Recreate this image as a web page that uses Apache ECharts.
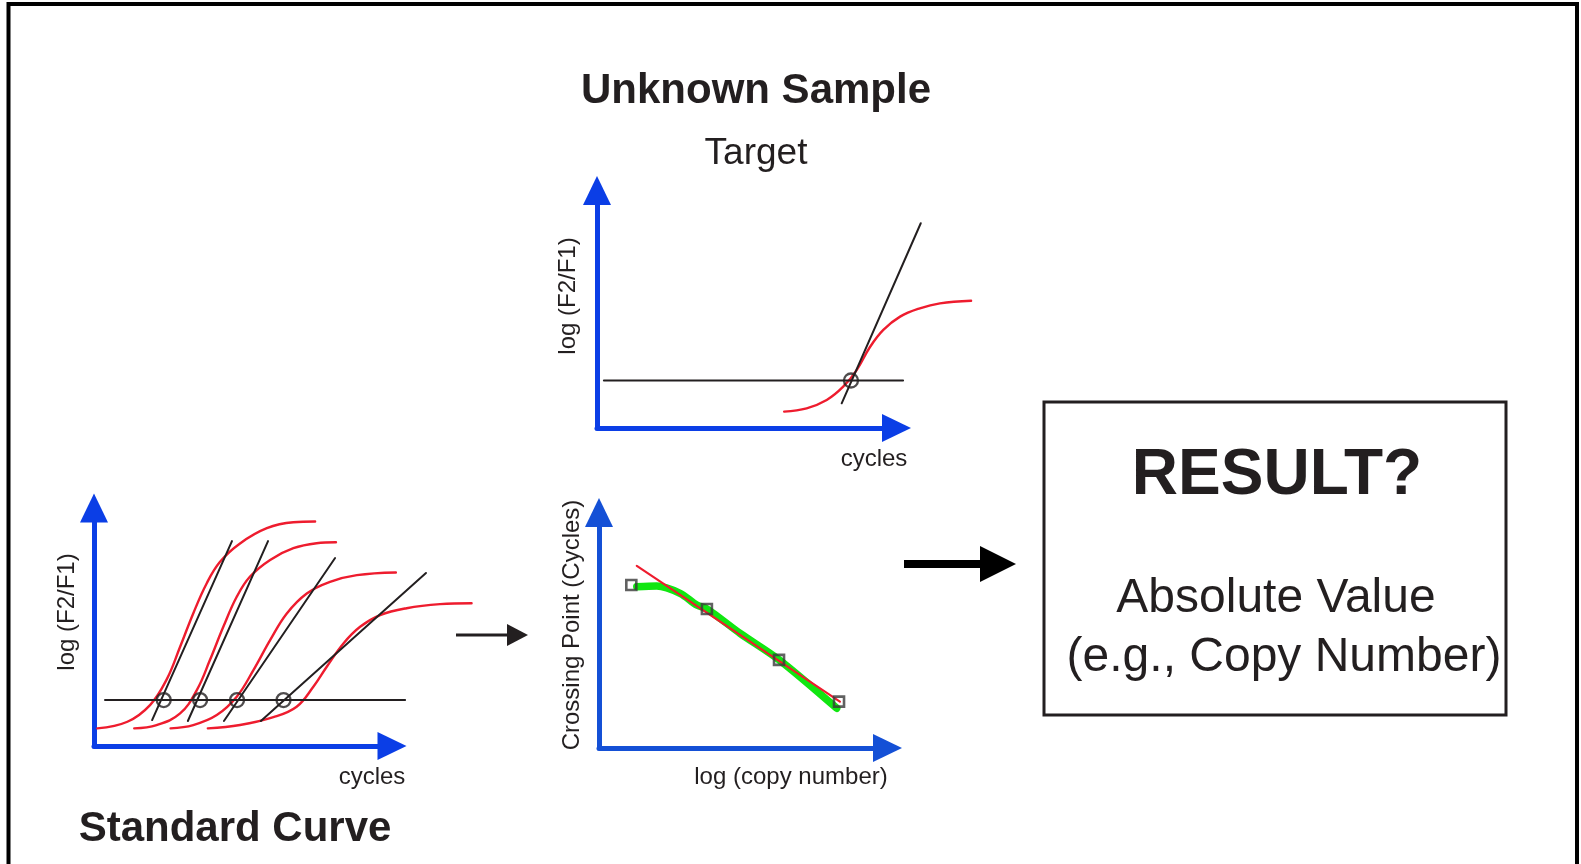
<!DOCTYPE html>
<html>
<head>
<meta charset="utf-8">
<title>Standard Curve / Unknown Sample</title>
<script src="https://cdn.jsdelivr.net/npm/echarts@6.0.0/dist/echarts.min.js"></script>
<style>
  html, body { margin: 0; padding: 0; background: #fff; }
  #main { width: 1581px; height: 864px; }
</style>
</head>
<body>
<div id="main"></div>
<script>
// --- Standard curve panel: four dilutions (x = cycles, y = log(F2/F1), 0..100 units)
const stdCurve1 = [[1.1, 7.4], [11.2, 10.2], [18.8, 17.2], [24.4, 28.0], [28.9, 41.7], [33.3, 55.7], [37.8, 68.3], [42.3, 77.4], [49.0, 85.1], [58.0, 91.5], [66.9, 94.0], [74.2, 94.3]];
const stdCurve2 = [[13.5, 7.4], [21.0, 8.8], [28.9, 13.7], [34.5, 23.5], [38.9, 36.1], [43.4, 50.1], [47.9, 62.7], [52.3, 71.1], [59.1, 78.2], [66.9, 83.1], [74.7, 85.2], [81.2, 85.6]];
const stdCurve3 = [[25.7, 7.4], [33.3, 8.8], [41.2, 13.0], [47.9, 20.7], [53.5, 31.9], [59.1, 44.5], [64.7, 55.7], [71.4, 64.1], [79.2, 69.0], [88.2, 71.8], [101.3, 72.9]];
const stdCurve4 = [[38.2, 7.4], [49.0, 8.8], [60.2, 12.1], [68.0, 16.5], [73.6, 24.9], [78.1, 33.3], [83.7, 43.1], [89.3, 50.1], [96.0, 55.0], [104.9, 57.9], [116.1, 59.6], [126.7, 60.0]];
const stdThreshold = [[3.7, 19.3], [104.4, 19.3]];
const stdTangents = [
  [[19.5, 10.9], [46.3, 86.1]],
  [[31.5, 10.5], [58.4, 86.1]],
  [[43.6, 10.5], [80.9, 79.0]],
  [[56.0, 10.5], [111.4, 72.7]]
];
const stdCrossings = [[23.4, 19.3], [35.6, 19.3], [48.0, 19.3], [63.6, 19.3]];

// --- Unknown sample panel (target)
const targetCurve = [[62.5, 6.9], [70.0, 8.3], [76.7, 11.8], [82.2, 17.4], [86.7, 24.4], [91.2, 34.2], [95.6, 41.3], [101.2, 46.9], [107.8, 50.4], [114.5, 52.5], [124.9, 53.6]];
const targetThreshold = [[2.3, 20.0], [102.2, 20.0]];
const targetTangent = [[81.7, 10.4], [108.1, 86.2]];
const targetCrossing = [[84.8, 20.0]];

// --- Crossing point vs log(copy number)
const cpPoints = [[11.2, 69.2], [37.4, 59.0], [62.4, 37.4], [83.2, 19.7]];
const cpFit = [[13.1, 77.3], [83.5, 19.7]];
const cpSmooth = [[13.1, 68.5], [20.0, 68.8], [28.1, 65.7], [33.9, 60.7], [37.5, 59.0], [48.9, 48.7], [62.5, 37.4], [82.4, 16.9]];

const BLUE = '#0b3ee6';
const BLUE2 = '#1450d6';
const RED = '#ee1c2e';
const GREEN = '#11e611';
const DARK = '#231f20';
const FONT = '"Liberation Sans", Arial, Helvetica, sans-serif';

var chart = echarts.init(document.getElementById('main'), null, { renderer: 'canvas' });

function makeAxis(gridIndex, color) {
  return {
    type: 'value',
    gridIndex: gridIndex,
    min: 0,
    max: 100,
    axisLine: {
      show: true,
      onZero: false,
      symbol: ['none', 'triangle'],
      symbolSize: [28, 29],
      lineStyle: { color: color, width: 5 }
    },
    axisTick: { show: false },
    axisLabel: { show: false },
    splitLine: { show: false }
  };
}

// hidden axis on a wider grid, so curves may run past the arrow head
function hiddenAxis(gridIndex, max) {
  return { type: 'value', gridIndex: gridIndex, min: 0, max: max, show: false };
}

function line(data, idx, color, width, smooth, z) {
  return {
    type: 'line',
    xAxisIndex: idx,
    yAxisIndex: idx,
    data: data,
    symbol: 'none',
    showSymbol: false,
    smooth: smooth,
    clip: false,
    silent: true,
    z: z || 2,
    lineStyle: { color: color, width: width, cap: 'round' }
  };
}

function circles(data, idx) {
  return {
    type: 'scatter',
    xAxisIndex: idx,
    yAxisIndex: idx,
    data: data,
    symbol: 'circle',
    symbolSize: 14,
    clip: false,
    silent: true,
    z: 5,
    itemStyle: { color: 'rgba(0,0,0,0)', borderColor: DARK, borderWidth: 2.3 }
  };
}

function label(text, x, y, size, bold, rotate) {
  return {
    type: 'text',
    x: x,
    y: y,
    rotation: rotate ? Math.PI / 2 : 0,
    style: {
      text: text,
      x: 0,
      y: 0,
      fill: DARK,
      font: (bold ? 'bold ' : '') + size + 'px ' + FONT,
      textAlign: 'center',
      textVerticalAlign: 'middle',
      align: 'center',
      verticalAlign: 'middle'
    }
  };
}

function arrow(x1, x2, y, width, headLen, headHalf, color) {
  return [
    { type: 'line', shape: { x1: x1, y1: y, x2: x2 - headLen + 2, y2: y }, style: { stroke: color, lineWidth: width } },
    { type: 'polygon', shape: { points: [[x2 - headLen, y - headHalf], [x2, y], [x2 - headLen, y + headHalf]] }, style: { fill: color } }
  ];
}

var series = [];
// standard curve (data grid 3)
[stdCurve1, stdCurve2, stdCurve3, stdCurve4].forEach(function (c) {
  series.push(line(c, 3, RED, 2.4, 0.4, 2));
});
series.push(line(stdThreshold, 3, DARK, 2, false, 3));
stdTangents.forEach(function (t) {
  series.push(line(t, 3, DARK, 2, false, 3));
});
series.push(circles(stdCrossings, 3));

// target (data grid 4)
series.push(line(targetCurve, 4, RED, 2.4, 0.4, 2));
series.push(line(targetThreshold, 4, DARK, 2, false, 3));
series.push(line(targetTangent, 4, DARK, 2, false, 3));
series.push(circles(targetCrossing, 4));

// crossing point regression (grid 2)
series.push(line(cpSmooth, 2, GREEN, 7.5, 0.3, 2));
series.push(line(cpFit, 2, RED, 2.2, false, 3));
series.push({
  type: 'scatter',
  xAxisIndex: 2,
  yAxisIndex: 2,
  data: cpPoints,
  symbol: 'rect',
  symbolSize: 10,
  clip: false,
  silent: true,
  z: 5,
  itemStyle: { color: 'rgba(0,0,0,0)', borderColor: '#3a3a3a', borderWidth: 2.6 }
});

var graphics = [
  // outer frame (bottom runs off the page)
  { type: 'rect', shape: { x: 8.5, y: 4, width: 1568.5, height: 1000 }, style: { fill: 'none', stroke: '#000', lineWidth: 4 } },
  // result box
  { type: 'rect', shape: { x: 1044, y: 402, width: 462, height: 313 }, style: { fill: 'none', stroke: DARK, lineWidth: 3 } },
  label('Unknown Sample', 756, 91, 42, true),
  label('Target', 756, 154, 37, false),
  label('Standard Curve', 235, 829, 42, true),
  label('log (F2/F1)', 67, 612, 24, false, true),
  label('cycles', 372, 777, 24, false),
  label('log (F2/F1)', 568, 296, 24, false, true),
  label('cycles', 874, 459, 24, false),
  label('Crossing Point (Cycles)', 572, 625, 24, false, true),
  label('log (copy number)', 791, 777, 24, false),
  label('RESULT?', 1277, 476, 64, true),
  label('Absolute Value', 1276, 599, 48, false),
  label('(e.g., Copy Number)', 1284, 658, 48, false)
].concat(arrow(456, 528, 635, 3, 21, 11, DARK))
 .concat(arrow(904, 1016, 564, 8, 36, 18, '#000'));

var option = {
  animation: false,
  backgroundColor: '#fff',
  grid: [
    { left: 94, top: 508, width: 298, height: 238, outerBoundsMode: 'none' },
    { left: 597, top: 190.5, width: 299.5, height: 237.5, outerBoundsMode: 'none' },
    { left: 599, top: 512.5, width: 288.5, height: 235.5, outerBoundsMode: 'none' },
    { left: 94, top: 508, width: 298 * 1.3, height: 238, outerBoundsMode: 'none' },
    { left: 597, top: 190.5, width: 299.5 * 1.3, height: 237.5, outerBoundsMode: 'none' }
  ],
  xAxis: [makeAxis(0, BLUE), makeAxis(1, BLUE), makeAxis(2, BLUE2), hiddenAxis(3, 130), hiddenAxis(4, 130)],
  yAxis: [makeAxis(0, BLUE), makeAxis(1, BLUE), makeAxis(2, BLUE2), hiddenAxis(3, 100), hiddenAxis(4, 100)],
  series: series,
  graphic: graphics
};

chart.setOption(option);
</script>
</body>
</html>
